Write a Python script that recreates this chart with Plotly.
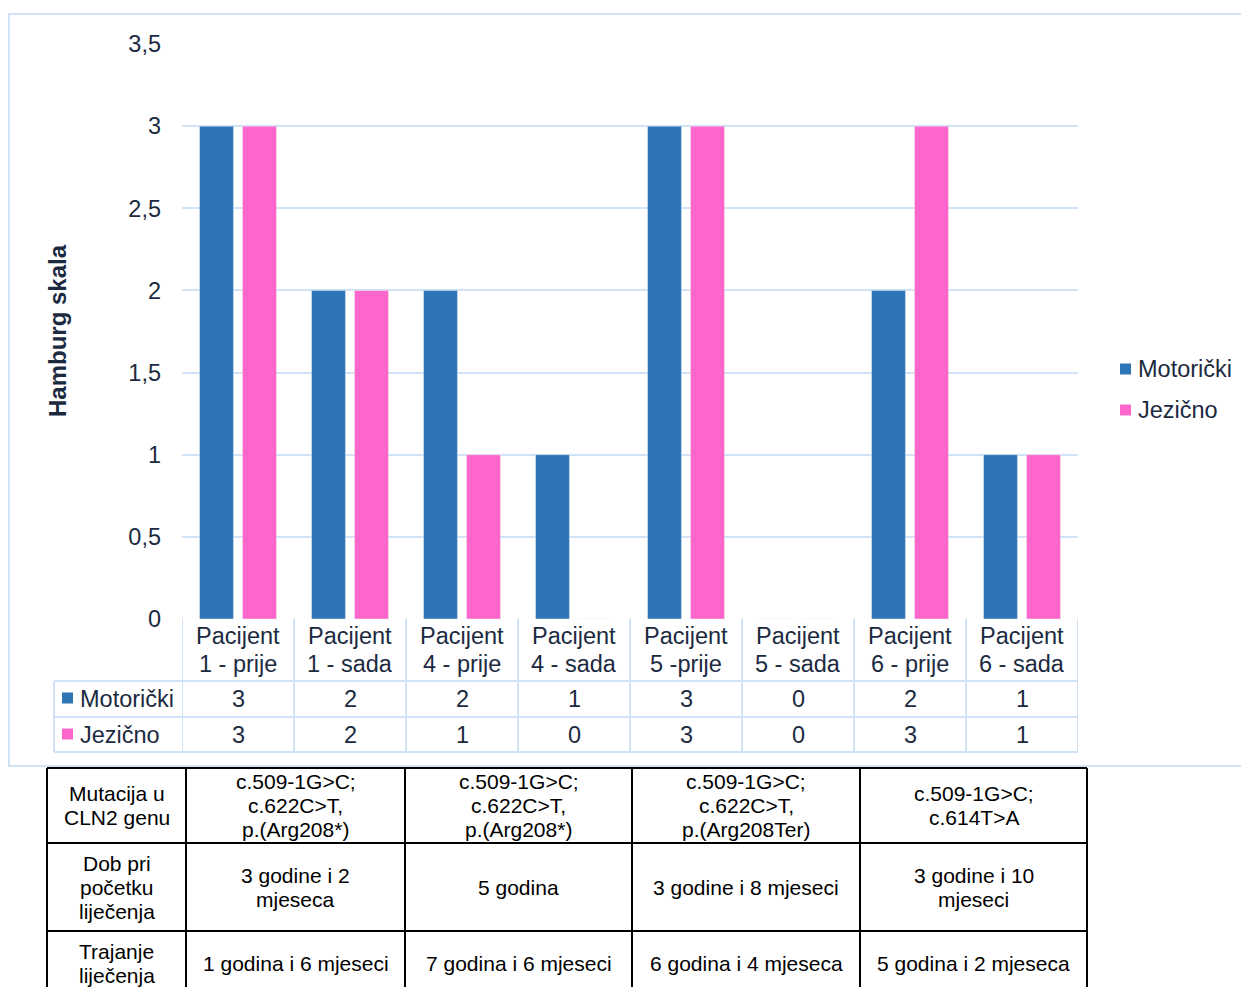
import plotly.graph_objects as go

# ---------------- data ----------------
categories = ["Pacijent 1 - prije", "Pacijent 1 - sada", "Pacijent 4 - prije", "Pacijent 4 - sada",
              "Pacijent 5 -prije", "Pacijent 5 - sada", "Pacijent 6 - prije", "Pacijent 6 - sada"]
cat_line1 = ["Pacijent"] * 8
cat_line2 = ["1 - prije", "1 - sada", "4 - prije", "4 - sada", "5 -prije", "5 - sada", "6 - prije", "6 - sada"]
motoricki = [3, 2, 2, 1, 3, 0, 2, 1]
jezicno = [3, 2, 1, 0, 3, 0, 3, 1]
series_names = ["Motorički", "Jezično"]
y_ticks = [0, 0.5, 1, 1.5, 2, 2.5, 3, 3.5]
y_tick_labels = ["0", "0,5", "1", "1,5", "2", "2,5", "3", "3,5"]

row_headers = [["Mutacija u", "CLN2 genu"], ["Dob pri", "početku", "liječenja"], ["Trajanje", "liječenja"]]
mutacija = [["c.509-1G>C;", "c.622C>T,", "p.(Arg208*)"],
            ["c.509-1G>C;", "c.622C>T,", "p.(Arg208*)"],
            ["c.509-1G>C;", "c.622C>T,", "p.(Arg208Ter)"],
            ["c.509-1G>C;", "c.614T>A"]]
dob = [["3 godine i 2", "mjeseca"], ["5 godina"], ["3 godine i 8 mjeseci"], ["3 godine i 10", "mjeseci"]]
trajanje = [["1 godina i 6 mjeseci"], ["7 godina i 6 mjeseci"], ["6 godina i 4 mjeseca"], ["5 godina i 2 mjeseca"]]

# ---------------- style ----------------
W, H = 1249, 987
OFF = 8  # page body offset
L, R, T, B = 182, 1078, 44, 619
BLUE = "#2E75B6"
PINK = "#FF66CC"
GRID = "#D0E2F5"
TXT = "#1C2A3F"
FONT = "Liberation Sans, Arial, sans-serif"
FS = 23.5


def px(x):
    return (x - L) / (R - L)


def py(y):
    return (B - y) / (B - T)


fig = go.Figure()
fig.add_trace(go.Bar(x=categories, y=motoricki, name=series_names[0], marker_color=BLUE, showlegend=False))
fig.add_trace(go.Bar(x=categories, y=jezicno, name=series_names[1], marker_color=PINK, showlegend=False))

shapes = []
ann = []


def line(x0, y0, x1, y1, color, width, xref="paper"):
    shapes.append(dict(type="line", xref=xref, yref="paper", x0=x0, y0=y0, x1=x1, y1=y1,
                       line=dict(color=color, width=width), layer="above"))


def text(x, y, s, size, color, xanchor="center", xref="paper", bold=False, angle=0):
    ann.append(dict(x=x, y=y, xref=xref, yref="paper", text=("<b>%s</b>" % s) if bold else s,
                    showarrow=False, xanchor=xanchor, yanchor="middle", textangle=angle,
                    font=dict(family=FONT, size=size, color=color)))


# outer chart border
shapes.append(dict(type="rect", xref="paper", yref="paper", x0=px(9), y0=py(14), x1=px(1262), y1=py(766),
                   line=dict(color=GRID, width=2), fillcolor="rgba(0,0,0,0)", layer="below"))

# axis title
text(px(57), py(331), "Hamburg skala", 24, TXT, bold=True, angle=-90)

# legend (right)
for i, (name, col, yc) in enumerate(zip(series_names, [BLUE, PINK], [369, 410])):
    shapes.append(dict(type="rect", xref="paper", yref="paper", x0=px(1120), x1=px(1131),
                       y0=py(yc - 5.5), y1=py(yc + 5.5), line=dict(width=0), fillcolor=col))
    text(px(1136), py(yc), name, FS, TXT, xanchor="left")

# data table under the chart
n = len(categories)
for i in range(n + 1):
    line(i - 0.5, py(619), i - 0.5, py(752), GRID, 2, xref="x")
for yv in [681, 717, 752]:
    line(px(54), py(yv), px(1078), py(yv), GRID, 2)
line(px(54), py(681), px(54), py(752), GRID, 2)
for i in range(n):
    text(i, py(636), cat_line1[i], FS, TXT, xref="x")
    text(i, py(664), cat_line2[i], FS, TXT, xref="x")
    text(i, py(699), str(motoricki[i]), FS, TXT, xref="x")
    text(i, py(735), str(jezicno[i]), FS, TXT, xref="x")
for name, col, yc in zip(series_names, [BLUE, PINK], [698, 734]):
    shapes.append(dict(type="rect", xref="paper", yref="paper", x0=px(62), x1=px(73),
                       y0=py(yc - 5.5), y1=py(yc + 5.5), line=dict(width=0), fillcolor=col))
    text(px(78), py(yc + 1), name, FS, TXT, xanchor="left")

# black table
cols = [47, 186, 405, 632, 860, 1087]
rows = [768, 843, 931, 1010]
for xv in cols:
    line(px(xv), py(768), px(xv), py(1010), "black", 2)
for yv in rows:
    line(px(47), py(yv), px(1087), py(yv), "black", 2)

LH = 24


def cell(ci, ri, lines):
    xc = (cols[ci] + cols[ci + 1]) / 2
    if ri == 2:
        yc = 963
    else:
        yc = (rows[ri] + rows[ri + 1]) / 2
    k = len(lines)
    for j, s in enumerate(lines):
        text(px(xc), py(yc + (j - (k - 1) / 2) * LH), s, 21, "black")


for ri, hdr in enumerate(row_headers):
    cell(0, ri, hdr)
for ci in range(4):
    cell(ci + 1, 0, mutacija[ci])
    cell(ci + 1, 1, dob[ci])
    cell(ci + 1, 2, trajanje[ci])

fig.update_layout(
    width=W, height=H,
    margin=dict(l=L - OFF, r=W - R + OFF, t=T - OFF, b=H - B + OFF, pad=0),
    paper_bgcolor="white", plot_bgcolor="white",
    barmode="group", bargap=0.232, bargroupgap=0.21,
    shapes=shapes, annotations=ann,
    font=dict(family=FONT, color=TXT),
    xaxis=dict(range=[-0.5, n - 0.5], showticklabels=False, showgrid=False, zeroline=False,
               showline=False, ticks=""),
    yaxis=dict(range=[0, 3.5], tickvals=y_ticks, ticktext=y_tick_labels, showgrid=True,
               gridcolor=GRID, gridwidth=2, zeroline=False, showline=False, ticks="",
               ticklabelstandoff=20, tickfont=dict(family=FONT, size=FS, color=TXT)),
)

fig.write_html("out.html")
